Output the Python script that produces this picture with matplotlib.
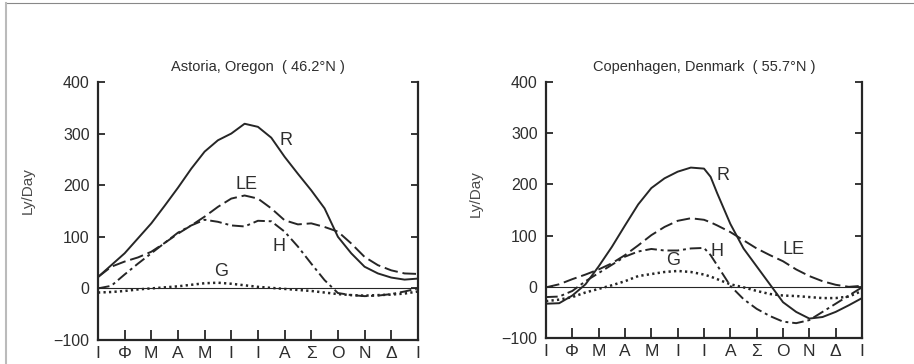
import numpy as np
import matplotlib.pyplot as plt
from matplotlib.lines import Line2D

plt.rcParams['font.family'] = ['Liberation Sans', 'DejaVu Sans']

# month labels (Greek initials), ticks at month boundaries
months = ['Ι', 'Φ', 'Μ', 'Α', 'Μ', 'Ι', 'Ι', 'Α', 'Σ', 'Ο', 'Ν', 'Δ', 'Ι']

# Astoria, Oregon - half month positions
t_ast = [0, 0.5, 1, 1.5, 2, 2.5, 3, 3.5, 4, 4.5, 5, 5.5, 6, 6.5, 7, 7.5,
         8, 8.5, 9, 9.5, 10, 10.5, 11, 11.5, 12]
R_ast = [22, 45, 68, 97, 126, 160, 195, 232, 265, 287, 300, 319, 313, 292,
         255, 222, 190, 155, 100, 68, 42, 29, 21, 17, 19]
LE_ast = [22, 42, 52, 60, 71, 88, 106, 122, 139, 158, 174, 180, 174, 155,
          132, 124, 126, 119, 110, 87, 61, 45, 35, 29, 28]
H_ast = [0, 5, 27, 48, 68, 88, 108, 122, 133, 129, 122, 120, 131, 130,
         110, 81, 48, 16, -9, -13, -15, -14, -11, -6, 0]
G_ast = [-8, -7, -5, -2, 0, 2, 4, 7, 10, 11, 9, 6, 3, 1, -1, -3, -5, -8,
         -11, -13, -14, -13, -12, -10, -6]

# Copenhagen, Denmark
t_cop = [0, 0.5, 1, 1.5, 2, 2.5, 3, 3.5, 4, 4.5, 5, 5.5, 6, 6.25, 6.5, 7,
         7.5, 8, 8.5, 9, 9.5, 10, 10.5, 11, 11.5, 12]
R_cop = [-33, -32, -17, 5, 40, 78, 120, 161, 193, 212, 225, 233, 231, 215,
         183, 123, 75, 40, 5, -30, -49, -62, -59, -49, -36, -22]
LE_cop = [-1, 5, 15, 24, 34, 46, 62, 81, 101, 117, 129, 134, 131, 126, 120,
          107, 91, 75, 62, 50, 34, 21, 11, 4, 0, 2]
H_cop = [-20, -19, -8, 11, 27, 43, 59, 69, 74, 71, 71, 75, 76, 62, 42, 2,
         -24, -43, -57, -68, -71, -65, -49, -33, -17, -1]
G_cop = [-28, -25, -20, -11, -4, 3, 11, 21, 25, 29, 31, 29, 24, 20, 15, 5,
         -1, -8, -14, -17, -18, -20, -22, -22, -19, -8]

ink = '#262626'
txt = '#2e2e2e'

fig = plt.figure(figsize=(9.14, 3.64), dpi=100)


def panel(rect, title, t, R, LE, H, G, lab_pos, ylab_xy):
    ax = fig.add_axes(rect)
    ax.plot(t, R, color=ink, lw=1.4, ls='-')
    ax.plot(t, LE, color=ink, lw=1.4, dashes=(7, 2.5))
    ax.plot(t, H, color=ink, lw=1.4, dashes=(6, 2, 1.5, 2))
    ax.plot(t, G, color=ink, lw=1.8, dashes=(0.9, 1.3))
    ax.axhline(0, color=ink, lw=0.8)
    ax.set_xlim(0, 12)
    ax.set_ylim(-100, 400)
    ax.set_yticks([-100, 0, 100, 200, 300, 400])
    ax.set_xticks(range(13))
    ax.set_xticklabels(months)
    ax.spines['top'].set_visible(False)
    for s in ['left', 'right', 'bottom']:
        ax.spines[s].set_linewidth(1.6)
        ax.spines[s].set_color(ink)
    ax.tick_params(axis='y', direction='in', length=5, width=1.3, left=True,
                   right=True, labelsize=11.5, labelcolor=txt, color=ink, pad=6)
    ax.tick_params(axis='x', direction='in', length=7, width=1.3, top=False,
                   labelsize=12.5, labelcolor=txt, color=ink, pad=4)
    ax.set_title(title, fontsize=10.5, color=txt, pad=8)
    ax.set_ylabel('Ly/Day', fontsize=11, color='#4a4a4a')
    ax.yaxis.set_label_coords(*ylab_xy)
    for name, (x, y) in lab_pos.items():
        ax.text(x, y, name, fontsize=13, color=txt, ha='center', va='center')
    return ax


panel([0.1072, 0.0659, 0.350, 0.709], 'Astoria, Oregon  ( 46.2°N )',
      t_ast, R_ast, LE_ast, H_ast, G_ast,
      {'R': (7.04, 287), 'LE': (5.56, 202), 'H': (6.79, 81), 'G': (4.63, 32)},
      (-0.197, 0.58))

panel([0.5974, 0.0714, 0.3457, 0.703], 'Copenhagen, Denmark  ( 55.7°N )',
      t_cop, R_cop, LE_cop, H_cop, G_cop,
      {'R': (6.74, 217), 'LE': (9.4, 72), 'H': (6.51, 69), 'G': (4.84, 51)},
      (-0.2, 0.566))

# scanned page border
fig.add_artist(Line2D([6 / 914, 1], [1 - 3 / 364, 1 - 3 / 364],
                      transform=fig.transFigure, color='#888888', lw=0.8))
fig.add_artist(Line2D([6 / 914, 6 / 914], [0, 1 - 3 / 364],
                      transform=fig.transFigure, color='#bbbbbb', lw=1.5))

fig.savefig('out.png', dpi=100)
